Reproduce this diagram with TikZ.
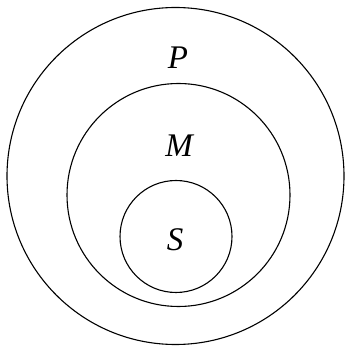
\documentclass[tikz,border=0pt]{standalone}
\usepackage{fontspec}
\setmainfont{Liberation Serif}
\usepackage{tikz}
\usetikzlibrary{positioning}

\begin{document}
\begin{tikzpicture}[x=1pt, y=1pt, every node/.style={font=\fontsize{33}{40}\selectfont\itshape, inner sep=0pt}]
\useasboundingbox (0,0) rectangle (345,346);
\node[circle, draw, line width=1.1pt, minimum size=337pt] (outer) at (175.5,170) {};
\node[circle, draw, line width=1.1pt, minimum size=223pt] (middle) at (178.5,151) {};
\node[circle, draw, line width=1.1pt, minimum size=112pt] (inner) at (176,109.5) {};
\node (p) at (178,288) {P};
\node (m) at (179,200) {M};
\node (s) at (175,106.5) {S};
\end{tikzpicture}
\end{document}
